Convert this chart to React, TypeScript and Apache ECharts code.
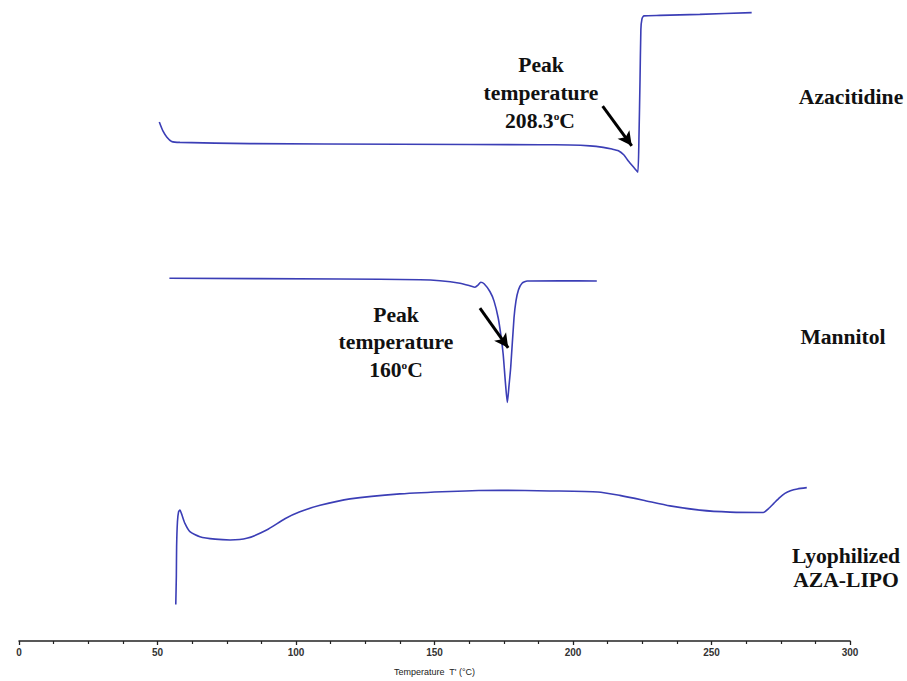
import React, { useEffect, useRef } from "react";
import * as echarts from "echarts";

// Temperature (°C) and heat flow (arbitrary units, curves offset vertically)
const azaT = [50.65, 52.0, 53.4, 55.1, 58.1, 83.4, 137.5, 188.1, 198.9, 206.1, 210.9, 214.1, 216.4, 218.4, 219.9, 222.4, 223.4, 223.8, 224.2, 224.5, 224.9, 225.6, 231.4, 245.8, 264.5];
const azaHF = [522.3, 513, 507, 502.7, 501.7, 500.5, 499.8, 499.4, 499.1, 498.2, 496.7, 495, 493.3, 489, 483.3, 475, 471.7, 505, 565, 615, 626, 629, 629.5, 630.5, 632.3];

const manT = [54.3, 115.9, 144.8, 152.0, 159.2, 162.8, 164.6, 165.7, 166.7, 167.9, 170.0, 171.5, 173.0, 174.0, 174.8, 175.6, 176.3, 176.9, 177.5, 178.7, 179.4, 180.3, 181.6, 183.5, 195.3, 208.6];
const manHF = [365, 364.3, 363.5, 362.5, 360, 357.5, 356, 358, 361, 359.5, 351.7, 342, 325, 307, 288.3, 260, 240, 257, 275, 325, 342, 353.3, 360, 362.3, 362.5, 362.3];

const lyoT = [56.6, 56.8, 56.9, 57.2, 57.6, 58.1, 58.8, 59.9, 61.7, 65.3, 70.8, 76.2, 82.2, 89.4, 96.0, 101.4, 108.7, 119.5, 137.5, 155.6, 173.6, 191.7, 209.0, 216.9, 225.4, 235.0, 245.8, 256.7, 268.7, 270.5, 272.5, 274.5, 276.5, 278.5, 281.0, 284.4];
const lyoHF = [36.7, 65, 95, 120, 130, 131.7, 127, 118.3, 110, 105, 102.5, 101.7, 103.3, 111.7, 123, 130, 136.5, 143, 148, 150.5, 151.7, 151, 150, 146.5, 141.7, 136, 131.7, 129.7, 129.3, 133, 138.5, 144, 148.5, 151.2, 153, 154.3];

const seriesNames = ["Azacitidine", "Mannitol", "Lyophilized AZA-LIPO"];

// Peak arrows: [startT, startHF, endT, endHF]
const azaArrow = [210.7, 538.3, 221.2, 498.3];
const manArrow = [166.4, 335, 176.6, 295];

const xTicks = { min: 0, max: 300, interval: 50 };

const zip = (xs: number[], ys: number[]) => xs.map((x, i) => [x, ys[i]]);

export default function App() {
  const ref = useRef<HTMLDivElement>(null);
  useEffect(() => {
    if (!ref.current) return;
    const chart = echarts.init(ref.current, null, { renderer: "svg" });
    const lineColor = "#3b3eb6";
    const serif = "'Liberation Serif', 'Times New Roman', serif";
    const sans = "Arial, 'Liberation Sans', sans-serif";
    const mkArrow = (a: number[]) => ({
      silent: true,
      symbol: ["none", "arrow"],
      symbolSize: [11, 14],
      label: { show: false },
      lineStyle: { color: "#000", width: 3, type: "solid" },
      data: [[{ coord: [a[0], a[1]] }, { coord: [a[2], a[3]] }]],
    });
    const txt = (x: number, y: number, t: string) => ({
      type: "text",
      x,
      y,
      scaleX: 1.03,
      style: {
        text: t,
        fill: "#111",
        font: `bold 21px ${serif}`,
        align: "center",
        verticalAlign: "middle",
        rich: { s: { fontSize: 11, fontWeight: "bold", fontFamily: serif, verticalAlign: "top", padding: [0, 0, 8, 0] } },
      },
    });
    chart.setOption({
      animation: false,
      backgroundColor: "#ffffff",
      grid: { left: 19, right: 57, top: 0, bottom: 36 },
      xAxis: {
        type: "value",
        min: xTicks.min,
        max: xTicks.max,
        interval: xTicks.interval,
        name: "Temperature  T' (°C)",
        nameLocation: "middle",
        nameGap: 26,
        nameTextStyle: { fontSize: 9, color: "#222", fontFamily: sans },
        axisLine: { show: true, lineStyle: { color: "#222", width: 1.5 } },
        axisTick: { show: true, length: 4, lineStyle: { color: "#222", width: 1.3 } },
        minorTick: { show: true, splitNumber: 4, length: 3, lineStyle: { color: "#222", width: 1.2 } },
        axisLabel: { fontSize: 10, fontWeight: "bold", color: "#333", margin: 6, fontFamily: sans },
        splitLine: { show: false },
      },
      yAxis: { type: "value", min: 0, max: 645, show: false },
      series: [
        {
          name: seriesNames[0], type: "line", data: zip(azaT, azaHF), showSymbol: false, smooth: 0.2,
          lineStyle: { color: lineColor, width: 1.6 }, markLine: mkArrow(azaArrow),
        },
        {
          name: seriesNames[1], type: "line", data: zip(manT, manHF), showSymbol: false, smooth: 0.2,
          lineStyle: { color: lineColor, width: 1.6 }, markLine: mkArrow(manArrow),
        },
        {
          name: seriesNames[2], type: "line", data: zip(lyoT, lyoHF), showSymbol: false, smooth: 0.2,
          lineStyle: { color: lineColor, width: 1.6 },
        },
      ],
      graphic: [
        txt(851, 97, "Azacitidine"),
        txt(843, 337, "Mannitol"),
        txt(846, 556, "Lyophilized"),
        txt(846, 580, "AZA-LIPO"),
        txt(541, 65, "Peak"),
        txt(541, 93, "temperature"),
        txt(540, 121, "208.3{s|o}C"),
        txt(396, 315, "Peak"),
        txt(396, 342, "temperature"),
        txt(396, 370, "160{s|o}C"),
      ],
    });
    return () => chart.dispose();
  }, []);
  return <div ref={ref} style={{ position: "fixed", left: 0, top: 0, width: 907, height: 681 }} />;
}
